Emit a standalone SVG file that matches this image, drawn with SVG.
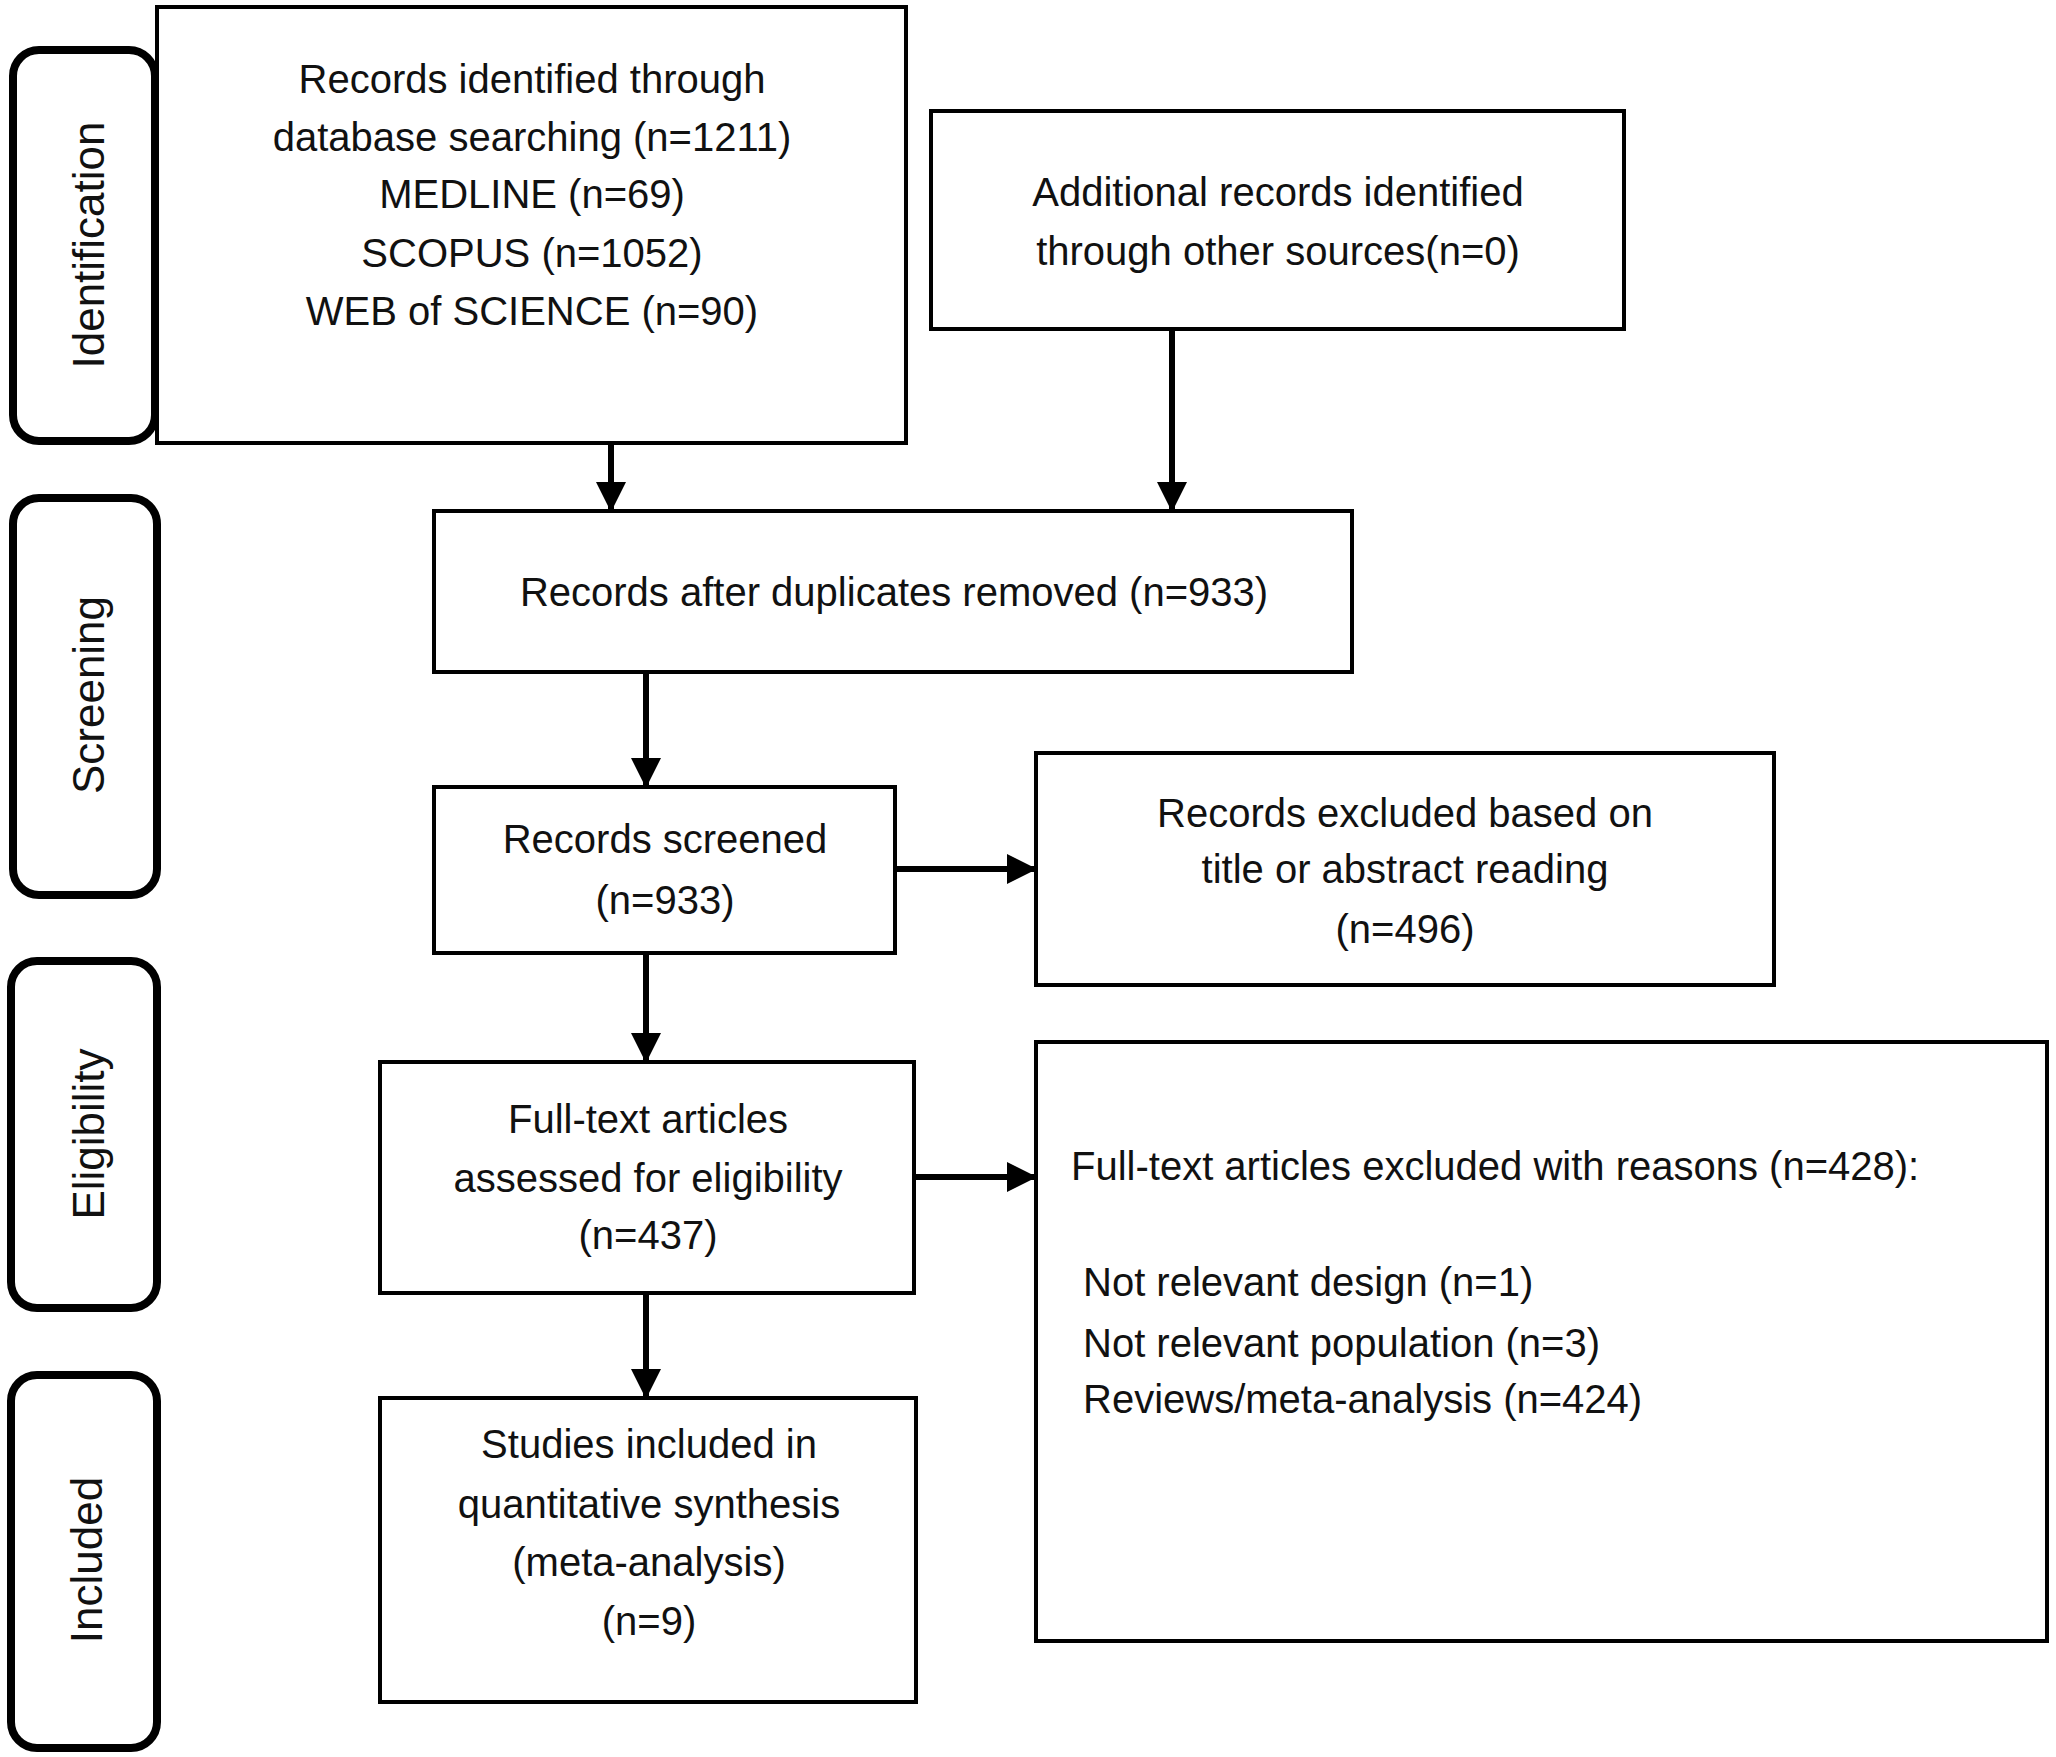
<svg xmlns="http://www.w3.org/2000/svg" width="2056" height="1757" viewBox="0 0 2056 1757">
<style>
.box{fill:#fff;stroke:#000;stroke-width:4}
.lab{fill:#fff;stroke:#000;stroke-width:8}
text{font-family:"Liberation Sans",Arial,sans-serif;font-size:40px;fill:#111}
.c{text-anchor:middle}
.v{text-anchor:middle;font-size:44px}
.con{stroke:#000;stroke-width:6;fill:none;marker-end:url(#ah)}
</style>
<defs><marker id="ah" viewBox="0 0 10 10" refX="9" refY="5" markerWidth="5" markerHeight="5" orient="auto" markerUnits="strokeWidth"><path d="M0,0L10,5L0,10z" fill="#000"/></marker></defs>
<rect width="2056" height="1757" fill="#fff"/>
<g id="lab-identification"><rect class="lab" x="13" y="50" width="142" height="391" rx="26"/><text class="v" transform="translate(104,245) rotate(-90)">Identification</text></g>
<g id="lab-screening"><rect class="lab" x="13" y="498" width="144" height="397" rx="26"/><text class="v" transform="translate(104,695) rotate(-90)">Screening</text></g>
<g id="lab-eligibility"><rect class="lab" x="11" y="961" width="146" height="347" rx="26"/><text class="v" transform="translate(104,1134) rotate(-90)">Eligibility</text></g>
<g id="lab-included"><rect class="lab" x="11" y="1375" width="146" height="373" rx="26"/><text class="v" transform="translate(102,1560) rotate(-90)">Included</text></g>
<g id="connectors">
<line class="con" x1="611" y1="443" x2="611" y2="509"/>
<line class="con" x1="1172" y1="329" x2="1172" y2="509"/>
<line class="con" x1="646" y1="672" x2="646" y2="785"/>
<line class="con" x1="646" y1="953" x2="646" y2="1060"/>
<line class="con" x1="895" y1="869" x2="1034" y2="869"/>
<line class="con" x1="914" y1="1177" x2="1034" y2="1177"/>
<line class="con" x1="646" y1="1293" x2="646" y2="1396"/>
</g>
<g id="n-identified"><rect class="box" x="157" y="7" width="749" height="436"/>
<text class="c" x="532" y="93">Records identified through</text>
<text class="c" x="532" y="151">database searching (n=1211)</text>
<text class="c" x="532" y="208">MEDLINE (n=69)</text>
<text class="c" x="532" y="267">SCOPUS (n=1052)</text>
<text class="c" x="532" y="325">WEB of SCIENCE (n=90)</text></g>
<g id="n-additional"><rect class="box" x="931" y="111" width="693" height="218"/>
<text class="c" x="1278" y="206">Additional records identified</text>
<text class="c" x="1278" y="265">through other sources(n=0)</text></g>
<g id="n-duplicates"><rect class="box" x="434" y="511" width="918" height="161"/>
<text class="c" x="894" y="606">Records after duplicates removed (n=933)</text></g>
<g id="n-screened"><rect class="box" x="434" y="787" width="461" height="166"/>
<text class="c" x="665" y="853">Records screened</text>
<text class="c" x="665" y="914">(n=933)</text></g>
<g id="n-excluded"><rect class="box" x="1036" y="753" width="738" height="232"/>
<text class="c" x="1405" y="827">Records excluded based on</text>
<text class="c" x="1405" y="883">title or abstract reading</text>
<text class="c" x="1405" y="943">(n=496)</text></g>
<g id="n-fulltext"><rect class="box" x="380" y="1062" width="534" height="231"/>
<text class="c" x="648" y="1133">Full-text articles</text>
<text class="c" x="648" y="1192">assessed for eligibility</text>
<text class="c" x="648" y="1249">(n=437)</text></g>
<g id="n-reasons"><rect class="box" x="1036" y="1042" width="1011" height="599"/>
<text x="1071" y="1180">Full-text articles excluded with reasons (n=428):</text>
<text x="1083" y="1296">Not relevant design (n=1)</text>
<text x="1083" y="1357">Not relevant population (n=3)</text>
<text x="1083" y="1413">Reviews/meta-analysis (n=424)</text></g>
<g id="n-included"><rect class="box" x="380" y="1398" width="536" height="304"/>
<text class="c" x="649" y="1458">Studies included in</text>
<text class="c" x="649" y="1518">quantitative synthesis</text>
<text class="c" x="649" y="1576">(meta-analysis)</text>
<text class="c" x="649" y="1635">(n=9)</text></g>
</svg>
